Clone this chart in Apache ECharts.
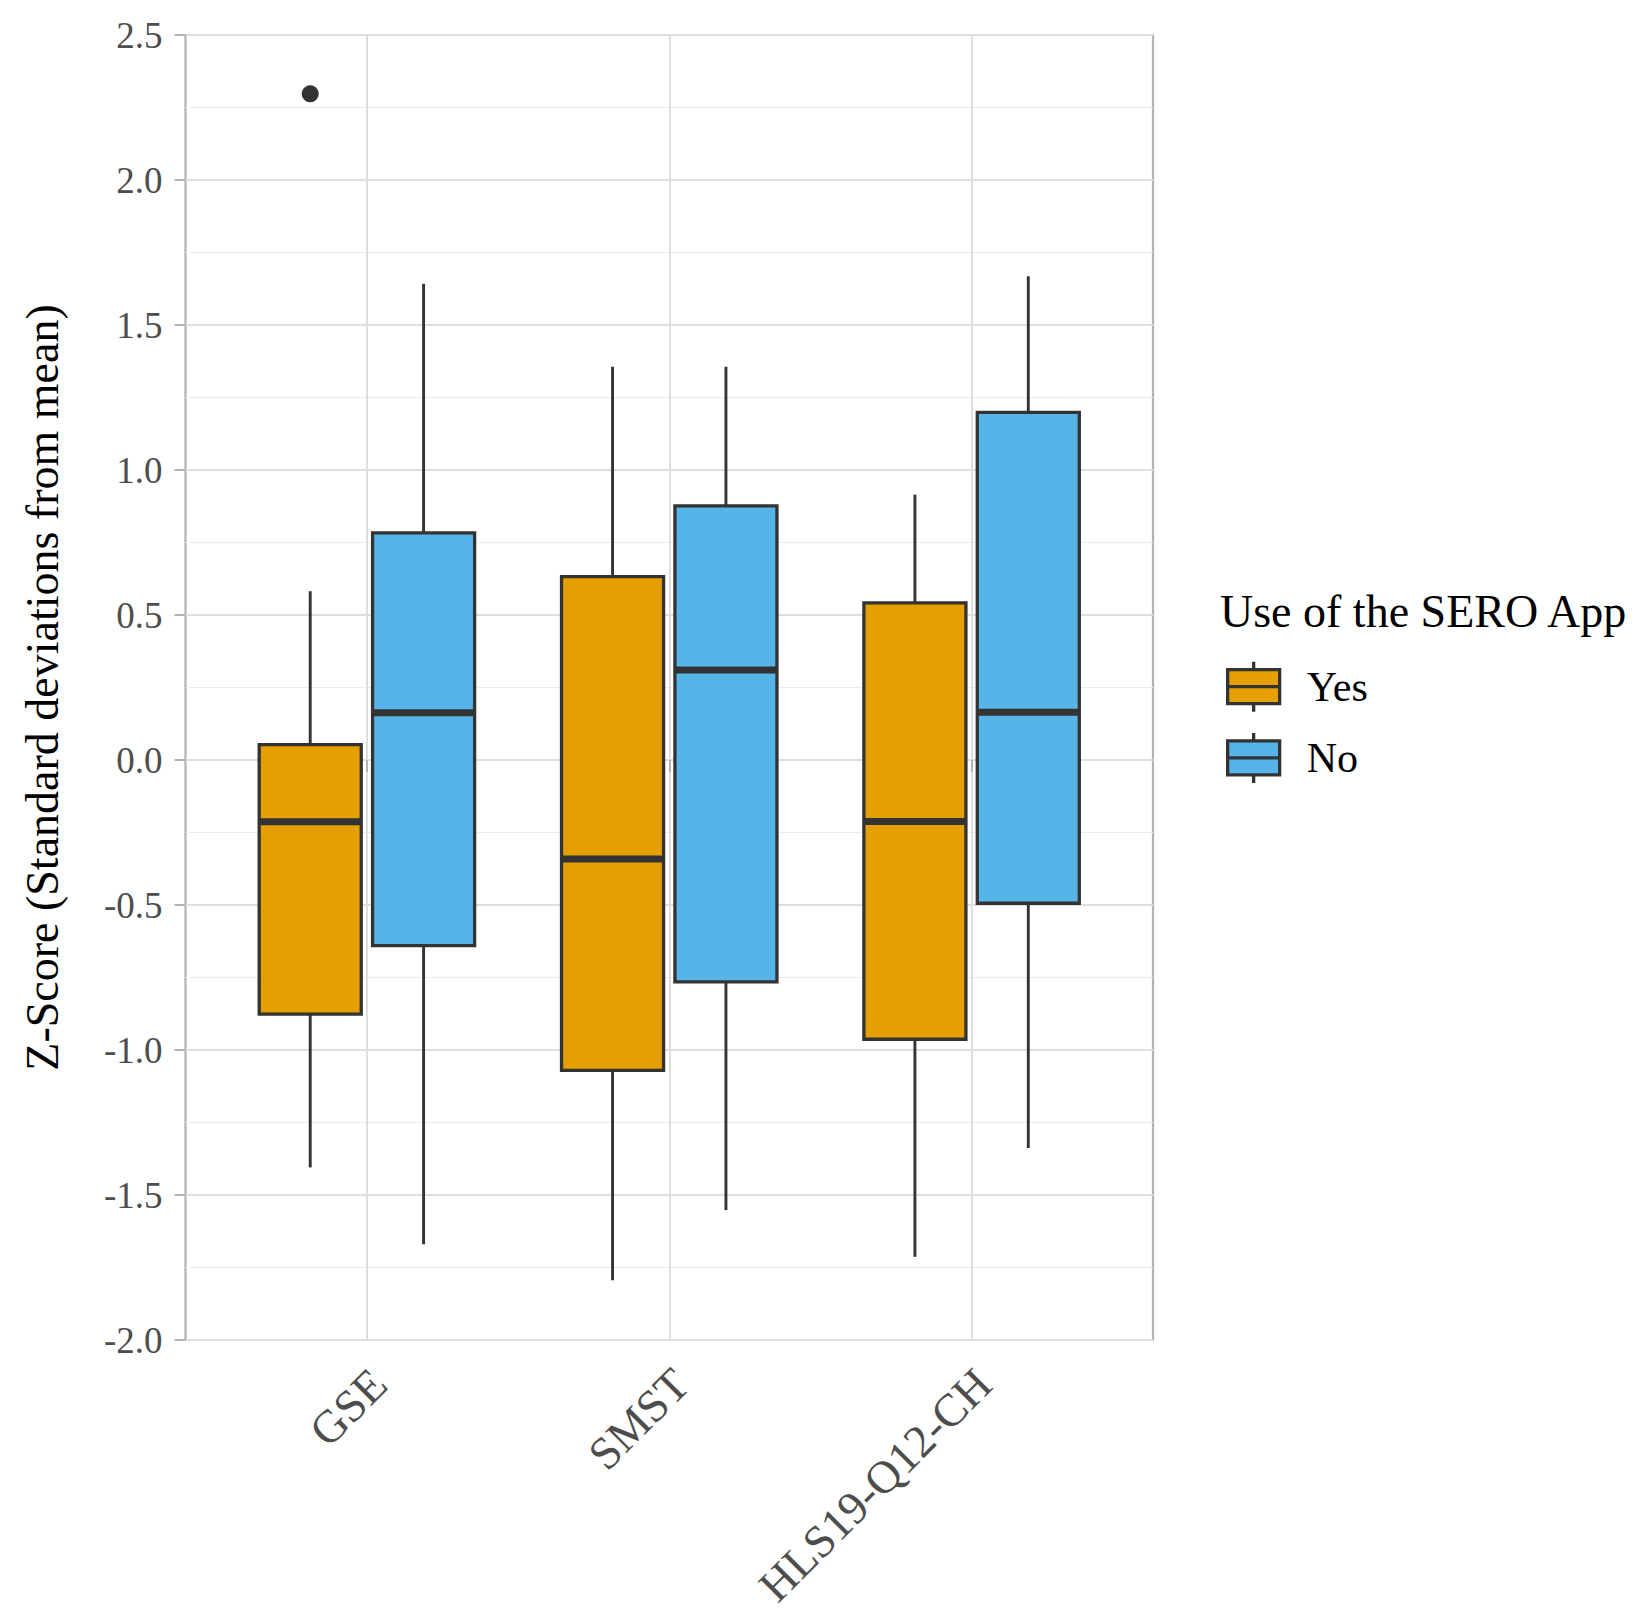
<!DOCTYPE html>
<html>
<head>
<meta charset="utf-8">
<script src="https://cdn.jsdelivr.net/npm/echarts@6/dist/echarts.min.js"></script>
<style>
  html, body { margin: 0; padding: 0; background: #ffffff; }
  #chart { width: 1649px; height: 1624px; }
</style>
</head>
<body>
<div id="chart"></div>
<script>
// ---- data ----
const categories = ['GSE', 'SMST', 'HLS19-Q12-CH'];
const groups = ['Yes', 'No'];
// [lower whisker, Q1, median, Q3, upper whisker] per category
const yesStats = [
  [-1.405, -0.876, -0.213, 0.053, 0.582],
  [-1.794, -1.070, -0.341, 0.632, 1.356],
  [-1.713, -0.963, -0.212, 0.542, 0.915]
];
const noStats = [
  [-1.670, -0.640, 0.163, 0.783, 1.642],
  [-1.552, -0.765, 0.310, 0.876, 1.356],
  [-1.338, -0.494, 0.165, 1.199, 1.668]
];
// outliers: [category index, value]
const yesOutliers = [[0, 2.297]];
const noOutliers = [];
const yTicks = [-2.0, -1.5, -1.0, -0.5, 0.0, 0.5, 1.0, 1.5, 2.0, 2.5];

// ---- styling / layout ----
const FONT = 'Liberation Serif';
const colors = { Yes: '#E69F00', No: '#56B4E9' };
const DODGE = 0.1875;      // half of dodge width 0.75 / 2
const HALF_BOX = 0.16875;  // box half-width (with 0.1 padding)
const LINE = '#333333';
const LW = 3.3;
const MED_LW = 7;

function boxRenderer(color) {
  return function (params, api) {
    const x = api.value(0);
    const lo = api.coord([x, api.value(1)]);
    const q1 = api.coord([x, api.value(2)]);
    const md = api.coord([x, api.value(3)]);
    const q3 = api.coord([x, api.value(4)]);
    const hi = api.coord([x, api.value(5)]);
    const hw = api.size([HALF_BOX, 0])[0];
    const cx = md[0];
    return {
      type: 'group',
      children: [
        { type: 'line', shape: { x1: cx, y1: hi[1], x2: cx, y2: q3[1] }, style: { stroke: LINE, lineWidth: 2.9 } },
        { type: 'line', shape: { x1: cx, y1: q1[1], x2: cx, y2: lo[1] }, style: { stroke: LINE, lineWidth: 2.9 } },
        { type: 'rect', shape: { x: cx - hw, y: q3[1], width: 2 * hw, height: q1[1] - q3[1] },
          style: { fill: color, stroke: LINE, lineWidth: LW } },
        { type: 'line', shape: { x1: cx - hw, y1: md[1], x2: cx + hw, y2: md[1] }, style: { stroke: LINE, lineWidth: MED_LW } }
      ]
    };
  };
}

function buildBoxData(stats, offset) {
  return stats.map((s, i) => [i + 1 + offset].concat(s));
}
function buildOutlierData(list, offset) {
  return list.map(o => [o[0] + 1 + offset, o[1]]);
}

const legendIcon = 'path://M0,8 L52,8 L52,42 L0,42 Z M0,25 L52,25 M26,0 L26,8 M26,42 L26,50';

const chart = echarts.init(document.getElementById('chart'), null, { renderer: 'svg' });
chart.setOption({
  backgroundColor: '#ffffff',
  animation: false,
  title: {
    text: 'Use of the SERO App',
    left: 1220,
    top: 588,
    padding: 0,
    textStyle: { fontFamily: FONT, fontSize: 46, fontWeight: 'normal', color: '#000000' }
  },
  legend: {
    orient: 'vertical',
    left: 1226,
    top: 660,
    itemWidth: 52,
    itemHeight: 50,
    itemGap: 18,
    padding: 0,
    selectedMode: false,
    textStyle: { fontFamily: FONT, fontSize: 42, color: '#000000', padding: [0, 0, 0, 22] },
    data: groups.map(g => ({
      name: g,
      icon: legendIcon,
      itemStyle: { color: colors[g], borderColor: LINE, borderWidth: LW }
    }))
  },
  grid: {
    left: 185.5,
    right: 1649 - 1153,
    top: 35,
    bottom: 1624 - 1340,
    show: true,
    borderColor: '#B3B3B3',
    borderWidth: 2.2,
    backgroundColor: 'transparent'
  },
  xAxis: {
    type: 'value',
    min: 0.4,
    max: 3.6,
    axisLine: { show: false },
    axisTick: { show: true, length: 12, customValues: [1, 2, 3], lineStyle: { color: '#B3B3B3', width: 2 } },
    axisLabel: {
      customValues: [1, 2, 3],
      rotate: 45,
      margin: 16,
      align: 'right',
      verticalAlign: 'top',
      padding: [0, 6, 0, 0],
      fontFamily: FONT,
      fontSize: 46,
      color: '#4D4D4D',
      formatter: v => categories[Math.round(v) - 1]
    },
    splitLine: { show: true, lineStyle: { color: '#DEDEDE', width: 2 } }
  },
  yAxis: {
    type: 'value',
    min: -2,
    max: 2.5,
    interval: 0.5,
    name: 'Z-Score (Standard deviations from mean)',
    nameLocation: 'middle',
    nameGap: 120,
    nameTextStyle: { fontFamily: FONT, fontSize: 46, color: '#000000' },
    axisLine: { show: false },
    axisTick: { show: true, length: 11, lineStyle: { color: '#B3B3B3', width: 2 } },
    axisLabel: {
      margin: 23,
      fontFamily: FONT,
      fontSize: 37,
      color: '#4D4D4D',
      formatter: v => v.toFixed(1)
    },
    splitLine: { show: true, lineStyle: { color: '#DEDEDE', width: 2 } },
    minorTick: { show: false, splitNumber: 2 },
    minorSplitLine: { show: true, lineStyle: { color: '#EBEBEB', width: 1.2 } }
  },
  series: [
    {
      name: 'Yes',
      type: 'custom',
      renderItem: boxRenderer(colors.Yes),
      encode: { x: 0, y: [1, 2, 3, 4, 5] },
      itemStyle: { color: colors.Yes },
      data: buildBoxData(yesStats, -DODGE),
      z: 3
    },
    {
      name: 'No',
      type: 'custom',
      renderItem: boxRenderer(colors.No),
      encode: { x: 0, y: [1, 2, 3, 4, 5] },
      itemStyle: { color: colors.No },
      data: buildBoxData(noStats, DODGE),
      z: 3
    },
    {
      name: 'Yes outliers',
      type: 'scatter',
      symbol: 'circle',
      symbolSize: 17,
      itemStyle: { color: LINE, opacity: 1 },
      data: buildOutlierData(yesOutliers, -DODGE),
      z: 4
    },
    {
      name: 'No outliers',
      type: 'scatter',
      symbol: 'circle',
      symbolSize: 17,
      itemStyle: { color: LINE, opacity: 1 },
      data: buildOutlierData(noOutliers, DODGE),
      z: 4
    }
  ]
});
</script>
</body>
</html>
